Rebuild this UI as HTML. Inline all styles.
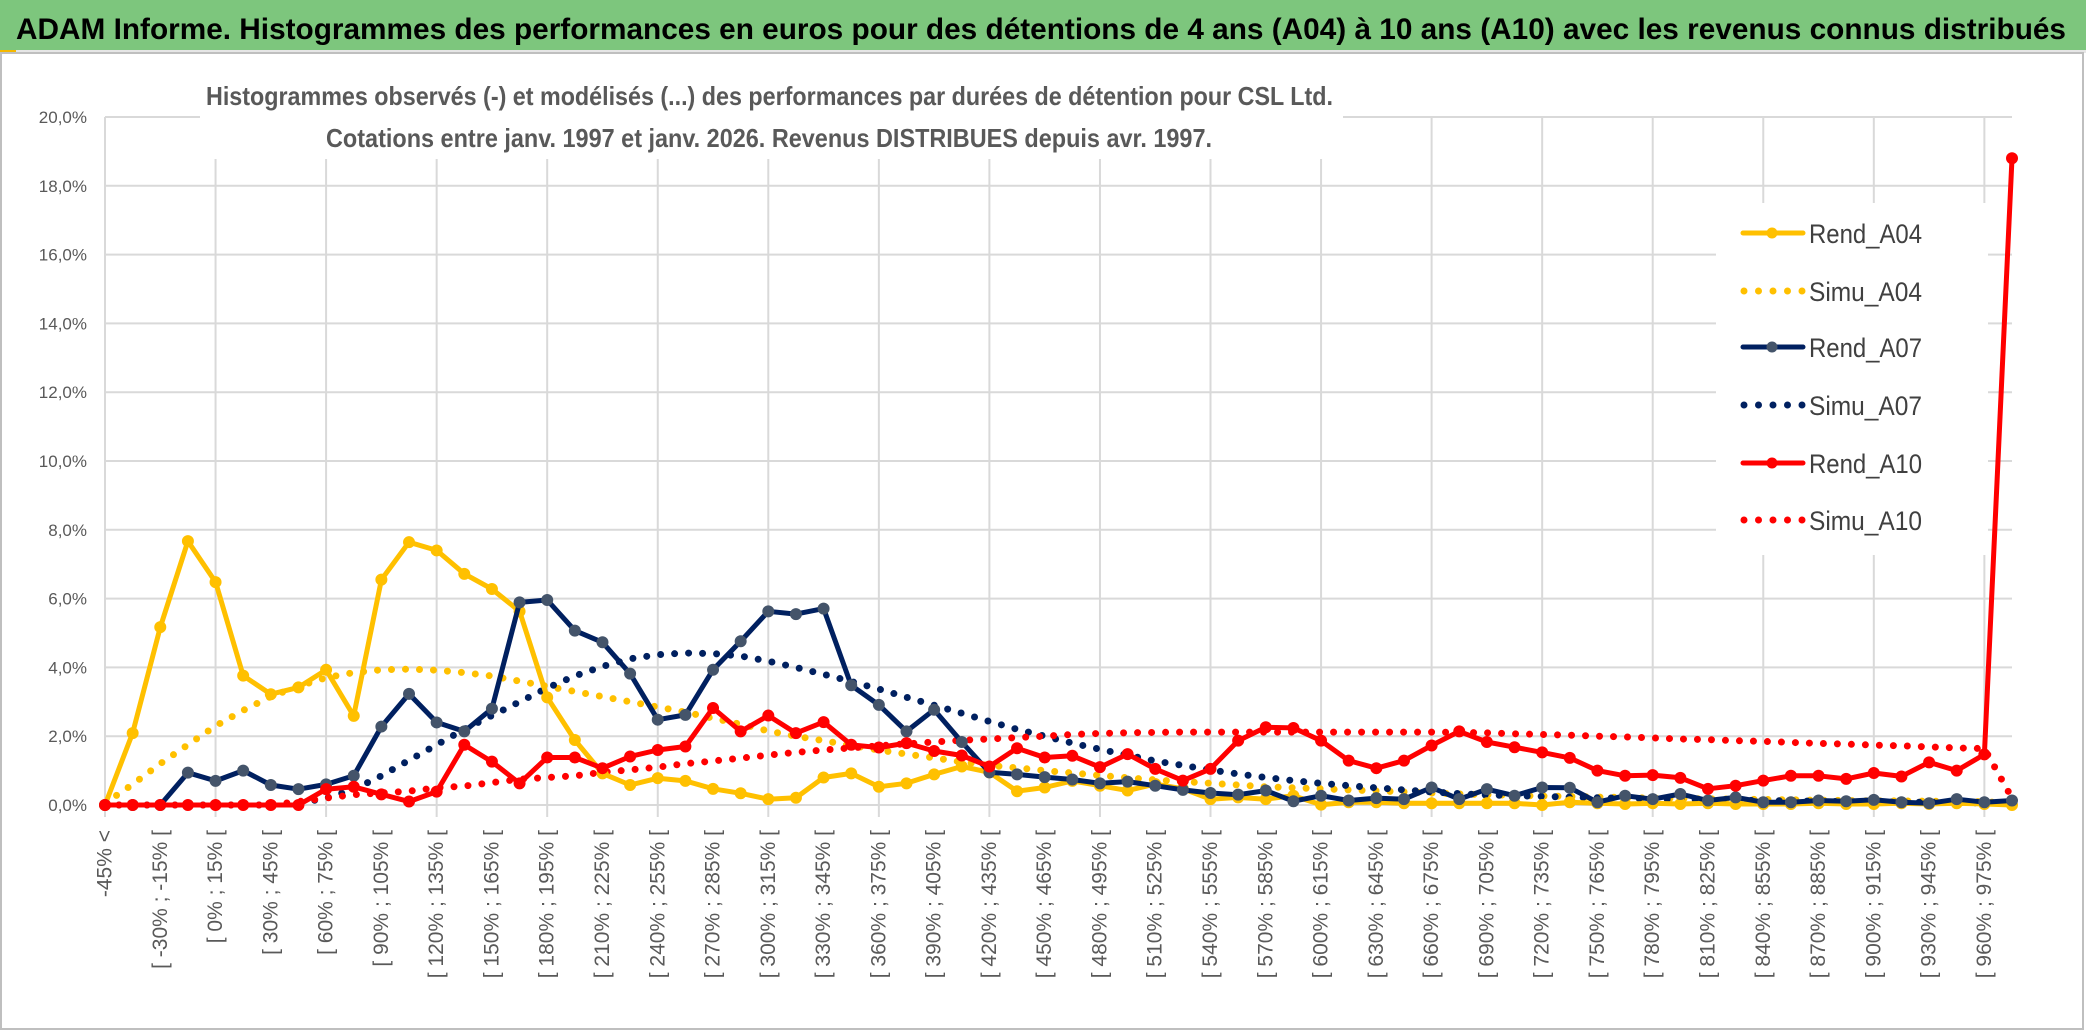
<!DOCTYPE html>
<html><head><meta charset="utf-8">
<style>
html,body{margin:0;padding:0;background:#fff;}
svg{display:block;font-family:"Liberation Sans",sans-serif;}
</style></head>
<body>
<svg id="chart" width="2086" height="1031" viewBox="0 0 2086 1031" xmlns="http://www.w3.org/2000/svg">
  <rect x="0" y="0" width="2086" height="1031" fill="#fff"/>
  <rect x="0" y="0" width="2086" height="50" fill="#7dc67d"/>
  <rect x="0" y="50" width="2086" height="3" fill="#e6e6e6"/>
  <rect x="0" y="50" width="16" height="3" fill="#f5b800"/>
  <text x="16" y="39" font-size="30" font-weight="bold" fill="#000" textLength="2050" lengthAdjust="spacingAndGlyphs">ADAM Informe. Histogrammes des performances en euros pour des détentions de 4 ans (A04) à 10 ans (A10) avec les revenus connus distribués</text>
  <rect x="1" y="53" width="2082" height="976" fill="none" stroke="#bfbfbf" stroke-width="2"/>
  <g id="grid"></g>
  <rect x="200" y="60" width="1143" height="99" fill="#fff"/>
  <text x="206" y="105" font-size="26" font-weight="bold" fill="#595959" textLength="1127" lengthAdjust="spacingAndGlyphs">Histogrammes observés (-) et modélisés (...) des performances par durées de détention pour CSL Ltd.</text>
  <text x="326" y="147" font-size="26" font-weight="bold" fill="#595959" textLength="886" lengthAdjust="spacingAndGlyphs">Cotations entre janv. 1997 et janv. 2026. Revenus DISTRIBUES depuis avr. 1997.</text>
  <g id="yaxis"></g>
  <g id="xaxis"></g>
  <rect x="1716" y="203" width="272" height="352" fill="#fff"/>
  <g id="series"></g>
  <g id="legend"></g>
</svg>
<script>
const categoryCount = 70;
const yTicks = [0,2,4,6,8,10,12,14,16,18,20];
const rendA04 = [0,2.09,5.17,7.67,6.48,3.76,3.22,3.42,3.93,2.59,6.55,7.64,7.4,6.72,6.28,5.63,3.13,1.89,0.92,0.58,0.78,0.7,0.47,0.34,0.17,0.21,0.8,0.92,0.53,0.63,0.89,1.12,0.95,0.4,0.51,0.7,0.56,0.42,0.61,0.47,0.17,0.22,0.17,0.27,0.01,0.08,0.08,0.05,0.05,0.05,0.05,0.05,0.0,0.08,0.05,0.03,0.05,0.03,0.05,0.03,0.03,0.03,0.05,0.03,0.03,0.05,0.03,0.05,0.03,0.0];
const simuA04 = [0.05,0.6,1.2,1.75,2.3,2.75,3.15,3.45,3.7,3.85,3.93,3.95,3.92,3.85,3.75,3.6,3.45,3.3,3.15,3.0,2.85,2.7,2.52,2.35,2.15,2.0,1.87,1.73,1.6,1.48,1.37,1.25,1.15,1.08,1.0,0.93,0.86,0.79,0.73,0.68,0.63,0.58,0.53,0.5,0.47,0.44,0.41,0.38,0.35,0.32,0.3,0.28,0.26,0.25,0.23,0.22,0.2,0.19,0.18,0.17,0.16,0.15,0.14,0.13,0.12,0.12,0.11,0.1,0.1,0.05];
const rendA07 = [0,0,0,0.94,0.7,1.0,0.58,0.46,0.6,0.85,2.28,3.23,2.4,2.14,2.8,5.89,5.96,5.07,4.73,3.82,2.48,2.62,3.93,4.76,5.63,5.55,5.71,3.48,2.91,2.14,2.77,1.83,0.95,0.89,0.81,0.74,0.63,0.68,0.56,0.44,0.35,0.3,0.42,0.11,0.27,0.13,0.2,0.17,0.51,0.17,0.46,0.27,0.51,0.5,0.08,0.27,0.17,0.32,0.13,0.22,0.08,0.08,0.13,0.11,0.15,0.08,0.05,0.17,0.08,0.13];
const simuA07 = [0,0,0,0,0,0,0,0.05,0.2,0.45,0.85,1.3,1.75,2.2,2.6,3.0,3.4,3.75,4.03,4.25,4.37,4.42,4.4,4.33,4.18,4.0,3.8,3.59,3.37,3.13,2.9,2.67,2.43,2.2,2.0,1.8,1.62,1.45,1.28,1.15,1.02,0.9,0.8,0.71,0.63,0.56,0.5,0.44,0.38,0.33,0.29,0.27,0.25,0.23,0.21,0.2,0.18,0.17,0.15,0.14,0.13,0.12,0.11,0.1,0.09,0.08,0.08,0.07,0.06,0.05];
const rendA10 = [0,0,0,0,0,0,0,0,0.46,0.53,0.31,0.1,0.39,1.75,1.26,0.63,1.38,1.38,1.07,1.41,1.6,1.7,2.82,2.14,2.6,2.09,2.41,1.75,1.67,1.8,1.57,1.44,1.12,1.65,1.38,1.43,1.1,1.48,1.05,0.71,1.05,1.87,2.26,2.24,1.87,1.29,1.07,1.29,1.73,2.14,1.83,1.68,1.53,1.37,1.0,0.85,0.87,0.79,0.47,0.56,0.71,0.85,0.85,0.76,0.93,0.83,1.24,1.0,1.47,18.8];
const simuA10 = [0,0,0,0,0,0,0,0.1,0.2,0.3,0.35,0.4,0.5,0.55,0.65,0.75,0.8,0.85,0.95,1.02,1.1,1.2,1.28,1.36,1.45,1.53,1.6,1.66,1.72,1.78,1.83,1.88,1.92,1.96,2.0,2.05,2.08,2.1,2.11,2.12,2.12,2.12,2.12,2.12,2.12,2.12,2.12,2.12,2.12,2.11,2.1,2.07,2.05,2.03,2.0,1.98,1.95,1.92,1.9,1.87,1.85,1.82,1.79,1.77,1.74,1.72,1.69,1.66,1.64,0.2];
const seriesNames = ["Rend_A04","Simu_A04","Rend_A07","Simu_A07","Rend_A10","Simu_A10"];

const NS = "http://www.w3.org/2000/svg";
const X0 = 105, X1 = 2012, Y0 = 805, Y1 = 117, YMAX = 20;
function xs(k){ return X0 + k*(X1-X0)/(categoryCount-1); }
function ys(v){ return Y0 - v*(Y0-Y1)/YMAX; }
function mk(tag, attrs, parent){ const e=document.createElementNS(NS,tag); for(const a in attrs) e.setAttribute(a, attrs[a]); parent.appendChild(e); return e; }
function catLabel(k){ if(k===0) return "-45% <"; const lo = 15*k-60; return "[ " + lo + "% ; " + (lo+15) + "% ["; }

const grid = document.getElementById('grid');
yTicks.forEach(t=>{
  const l = mk('line',{x1:X0,x2:X1,y1:ys(t),y2:ys(t),stroke:'#d9d9d9','stroke-width':2},grid);
  
  
});
for(let k=0;k<categoryCount;k+=4){
  const l = mk('line',{x1:xs(k),x2:xs(k),y1:Y1,y2:Y0+12,stroke:'#d9d9d9','stroke-width':2},grid);
  
  
}
const yax = document.getElementById('yaxis');
yTicks.forEach(t=>{
  const tx = mk('text',{x:87,y:ys(t)+6,'font-size':17,fill:'#595959','text-anchor':'end'},yax);
  tx.textContent = t.toFixed(1).replace('.',',') + '%';
  
  
});
const xax = document.getElementById('xaxis');
for(let k=0;k<categoryCount;k+=2){
  const x = xs(k);
  const tx = mk('text',{x:0,y:0,'font-size':21,fill:'#595959','text-anchor':'end','dominant-baseline':'central',transform:'translate('+x+',830) rotate(-90)'},xax);
  tx.textContent = catLabel(k);
  
  
}

const sg = document.getElementById('series');
function pts(arr){ return arr.map((v,k)=>xs(k).toFixed(1)+','+ys(v).toFixed(1)).join(' '); }
function dotted(arr,color,name){
  const p = mk('polyline',{points:pts(arr),fill:'none',stroke:color,'stroke-width':7,'stroke-linecap':'round','stroke-linejoin':'round','stroke-dasharray':'0 14'},sg);
  
  
}
function solid(arr,color,mcolor,name){
  const p = mk('polyline',{points:pts(arr),fill:'none',stroke:color,'stroke-width':5,'stroke-linejoin':'round'},sg);
  
  
  arr.forEach((v,k)=>{
    const c = mk('circle',{cx:xs(k),cy:ys(v),r:5.5,fill:mcolor,stroke:mcolor},sg);
    
    
  });
}
dotted(simuA04,'#ffc000','simu-a04-line');
dotted(simuA07,'#002060','simu-a07-line');
dotted(simuA10,'#ff0000','simu-a10-line');
solid(rendA04,'#ffc000','#ffc000','rend-a04-line');
solid(rendA07,'#002060','#44546a','rend-a07-line');
solid(rendA10,'#ff0000','#ff0000','rend-a10-line');

const lg = document.getElementById('legend');
const lgColors = ['#ffc000','#ffc000','#002060','#002060','#ff0000','#ff0000'];
const lgMarker = ['#ffc000',null,'#44546a',null,'#ff0000',null];
const lgY = [233,291,347,405,463,520];
seriesNames.forEach((n,i)=>{
  const y = lgY[i];
  if(lgMarker[i]){
    const l = mk('line',{x1:1743,x2:1803,y1:y,y2:y,stroke:lgColors[i],'stroke-width':5,'stroke-linecap':'round'},lg);
    
    
    const c = mk('circle',{cx:1772,cy:y,r:5.5,fill:lgMarker[i]},lg);
    
    
  } else {
    const l = mk('line',{x1:1744,x2:1803,y1:y,y2:y,stroke:lgColors[i],'stroke-width':7,'stroke-linecap':'round','stroke-dasharray':'0 14.5'},lg);
    
    
  }
  const t = mk('text',{x:1809,y:y+10,'font-size':27,fill:'#404040',textLength:113,lengthAdjust:'spacingAndGlyphs'},lg);
  t.textContent = n;
  
  
});
</script>
</body></html>
